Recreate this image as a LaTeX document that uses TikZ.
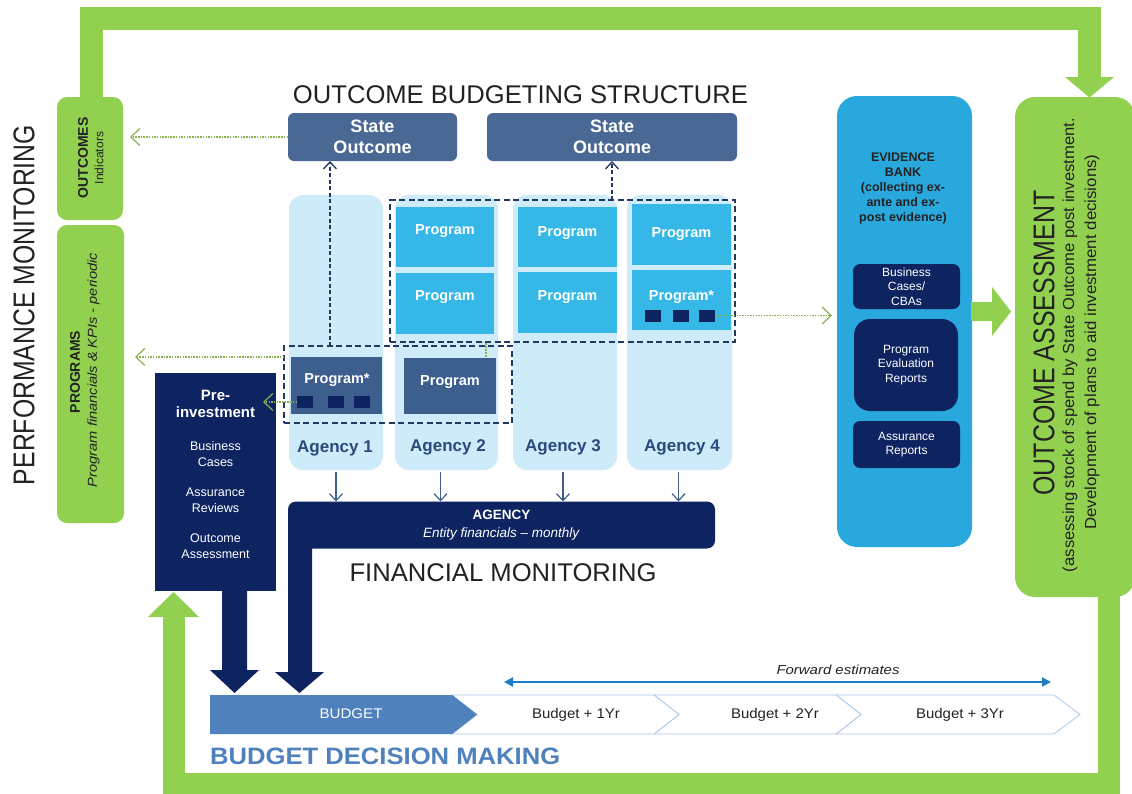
\documentclass[tikz,border=0pt]{standalone}
\usepackage{fontspec}
\setmainfont{Liberation Sans}
\usepackage{graphicx}
\usetikzlibrary{arrows.meta,calc}
\definecolor{ogreen}{HTML}{92D050}
\definecolor{navy}{HTML}{0E2461}
\definecolor{stateblue}{HTML}{4A6894}
\definecolor{progdark}{HTML}{3D5F8E}
\definecolor{agencylight}{HTML}{CDEBF8}
\definecolor{progbright}{HTML}{35B8E8}
\definecolor{evbank}{HTML}{29A8DE}
\definecolor{agtextc}{HTML}{2B4A7C}
\definecolor{budgetblue}{HTML}{4F81BD}
\definecolor{chevline}{HTML}{A9C8E8}
\definecolor{dashnavy}{HTML}{203864}
\definecolor{dotgreen}{HTML}{8CB04F}
\definecolor{fwdblue}{HTML}{1C7CC7}
\definecolor{txtdark}{HTML}{222222}
\newcommand\fitto[2]{\resizebox{#1}{\height}{#2}}
\begin{document}
\begin{tikzpicture}[x=1pt,y=-1pt,
  box/.style={inner sep=0pt, outer sep=0pt, draw=none},
  gbox/.style={box, fill=ogreen, rounded corners=10pt},
  rot/.style={rotate=90, inner sep=0pt, text=txtdark},
  stateb/.style={box, fill=stateblue, rounded corners=6pt, text=white, font=\bfseries\fontsize{18}{21}\selectfont, align=center},
  agcol/.style={box, fill=agencylight, rounded corners=14pt},
  progb/.style={box, fill=progbright},
  progd/.style={box, fill=progdark},
  sq/.style={box, fill=navy, minimum width=16pt, minimum height=12pt},
  ptext/.style={inner sep=0pt, text=white, font=\bfseries\fontsize{14.5}{17}\selectfont},
  agtext/.style={inner sep=0pt, text=agtextc, font=\bfseries\fontsize{17}{20}\selectfont},
  dashrect/.style={box, draw=dashnavy, line width=1.5pt, dash pattern=on 6pt off 3.5pt},
  dasharrow/.style={draw=dashnavy, line width=1.5pt, dash pattern=on 4pt off 2.5pt, -{Straight Barb[length=7pt,width=13pt,line width=1.3pt]}},
  garrow/.style={draw=dotgreen, line width=1.2pt, dash pattern=on 1.5pt off 1.2pt, -{Straight Barb[length=9pt,width=17pt,line width=1.2pt]}},
  gdot/.style={draw=dotgreen, line width=1.6pt, dash pattern=on 1.5pt off 1.5pt},
  smallarrow/.style={draw=progdark, line width=1.2pt, -{Straight Barb[length=7pt,width=13pt,line width=1.2pt]}},
  wtext/.style={inner sep=0pt, text=white, align=center},
  chev/.style={fill=white, draw=chevline, line width=0.8pt},
  navyb/.style={box, fill=navy},
  ebox/.style={box, fill=navy, rounded corners=7pt, text=white, align=center, font=\fontsize{12}{14.5}\selectfont},
]
\useasboundingbox (0,0) rectangle (1132,793);
\fill[white] (0,0) rectangle (1132,793);

% ---------- green loops ----------
\draw[ogreen, line width=23pt] (91.5,100) -- (91.5,18.5) -- (1089.5,18.5) -- (1089.5,78);
\fill[ogreen] (1065,77) -- (1114,77) -- (1089.5,97.5) -- cycle;
\draw[ogreen, line width=22pt] (1109,590) -- (1109,784) -- (173.5,784) -- (173.5,616);
\fill[ogreen] (148,617) -- (199,617) -- (173.5,592) -- cycle;

% ---------- performance monitoring ----------
\node[gbox, minimum width=66pt, minimum height=123pt] (outc) at (90,158.5) {};
\node[rot, font=\bfseries\fontsize{14}{16}\selectfont] (outct) at (83,158) {OUTCOMES};
\node[rot, font=\fontsize{12}{14}\selectfont] (indt) at (99,158) {Indicators};
\node[gbox, minimum width=67pt, minimum height=298pt] (progs) at (90.5,374) {};
\node[rot, font=\bfseries\fontsize{14}{16}\selectfont] (progst) at (75,372) {PROGRAMS};
\node[rot, font=\itshape\fontsize{13}{15}\selectfont] (progsi) at (93.5,370) {\fitto{234pt}{Program financials \& KPIs - periodic}};
\node[rot, font=\fontsize{30}{36}\selectfont] (perfm) at (24,305) {\fitto{360pt}{PERFORMANCE MONITORING}};

% ---------- outcome budgeting structure ----------
\node[inner sep=0pt, text=txtdark, font=\fontsize{25.6}{30}\selectfont] (obs) at (520.5,95) {\fitto{455pt}{OUTCOME BUDGETING STRUCTURE}};
\node[stateb, minimum width=169pt, minimum height=48pt] (so1) at (372.5,137) {State\\Outcome};
\node[stateb, minimum width=250pt, minimum height=48pt] (so2) at (612,137) {State\\Outcome};

% agency columns
\node[agcol, minimum width=94pt, minimum height=275pt] (a1) at (336,332.5) {};
\node[agcol, minimum width=103pt, minimum height=275pt] (a2) at (446.5,332.5) {};
\node[agcol, minimum width=104pt, minimum height=275pt] (a3) at (565,332.5) {};
\node[agcol, minimum width=105pt, minimum height=275pt] (a4) at (679.5,332.5) {};
\node[agtext] (a1t) at (335,448) {Agency 1};
\node[agtext] (a2t) at (448,447) {Agency 2};
\node[agtext] (a3t) at (563,447) {Agency 3};
\node[agtext] (a4t) at (682,447) {Agency 4};

% bright programs
\node[progb, minimum width=98pt, minimum height=60pt] (p2a) at (445,237) {};
\node[progb, minimum width=98pt, minimum height=61pt] (p2b) at (445,303.5) {};
\node[progb, minimum width=99pt, minimum height=60pt] (p3a) at (567.5,237) {};
\node[progb, minimum width=99pt, minimum height=61pt] (p3b) at (567.5,302.5) {};
\node[progb, minimum width=99pt, minimum height=61pt] (p4a) at (681.5,234.5) {};
\node[progb, minimum width=99pt, minimum height=60pt] (p4b) at (681.5,300) {};
\node[ptext] (p2at) at (445,231) {Program};
\node[ptext] (p2bt) at (445,297) {Program};
\node[ptext] (p3at) at (567.5,233) {Program};
\node[ptext] (p3bt) at (567.5,297) {Program};
\node[ptext] (p4at) at (681.5,234) {Program};
\node[ptext] (p4bt) at (681.5,297) {Program*};
\node[sq] (s4) at (652.5,315.5) {};
\node[sq] (s5) at (680.5,315.5) {};
\node[sq] (s6) at (707,315.5) {};

% dark programs
\node[progd, minimum width=91pt, minimum height=57pt] (d1) at (336.5,385.5) {};
\node[progd, minimum width=92pt, minimum height=56pt] (d2) at (450,386) {};
\node[ptext] (d1t) at (337,380) {Program*};
\node[ptext] (d2t) at (450,382) {Program};
\node[sq] (s1) at (305,402) {};
\node[sq] (s2) at (335.5,402) {};
\node[sq] (s3) at (362,402) {};

% dashed groups
\node[dashrect, minimum width=345pt, minimum height=142pt] (dtop) at (562.5,271) {};
\node[dashrect, minimum width=228pt, minimum height=77pt] (dlow) at (398,384.5) {};
\coordinate (c1) at (330,346);
\draw[dasharrow] (c1) -- (c1 |- so1.south);
\draw[dasharrow] (dtop.north -| so2.south) -- (so2.south);
\coordinate (c2a) at (486,343);
\coordinate (c2b) at (486,357);
\draw[gdot] (c2a) -- (c2b);

% ---------- pre-investment ----------
\node[navyb, minimum width=121pt, minimum height=218pt] (preinv) at (215.5,482) {};
\node[wtext, font=\bfseries\fontsize{15}{17}\selectfont] (pit) at (215.5,404) {Pre-\\investment};
\node[wtext, font=\fontsize{12.5}{16}\selectfont] (pib) at (215.5,454) {Business\\Cases};
\node[wtext, font=\fontsize{12.5}{16}\selectfont] (pia) at (215.5,500) {Assurance\\Reviews};
\node[wtext, font=\fontsize{12.5}{16}\selectfont] (pio) at (215.5,546) {Outcome\\Assessment};
\fill[navy] (222,590) -- (222,670) -- (210,670) -- (234.5,693) -- (259,670) -- (247,670) -- (247,590) -- cycle;

% ---------- green dotted arrows ----------
\draw[garrow, shorten >=7pt] (so1.west) -- (so1.west -| outc.east);
\coordinate (g2s) at (284,357);
\draw[garrow, shorten >=11pt] (g2s) -- (g2s -| progs.east);
\draw[garrow, shorten >=-13pt] (s1.west) -- (s1.west -| preinv.east);

% ---------- agency financial ----------
\node[box, fill=navy, rounded corners=8pt, minimum width=427pt, minimum height=47pt, text=white, align=center, font=\fontsize{13.5}{18}\selectfont] (agbar) at (501.5,525) {\textbf{AGENCY}\\\textit{Entity financials – monthly}};
\fill[navy] (288,515) -- (288,672) -- (275,672) -- (299.5,693) -- (324,672) -- (312,672) -- (312,515) -- cycle;
\draw[smallarrow] ($(a1.south)+(0,2)$) -- (a1.south |- agbar.north);
\draw[smallarrow] ($(a2.south)+(-6,2)$) -- ($(a2.south |- agbar.north)+(-6,0)$);
\draw[smallarrow] ($(a3.south)+(-2,2)$) -- ($(a3.south |- agbar.north)+(-2,0)$);
\draw[smallarrow] ($(a4.south)+(-1,2)$) -- ($(a4.south |- agbar.north)+(-1,0)$);
\node[inner sep=0pt, text=txtdark, font=\fontsize{25.6}{30}\selectfont] (finm) at (503,573) {\fitto{307pt}{FINANCIAL MONITORING}};

% ---------- evidence bank ----------
\node[box, fill=evbank, rounded corners=20pt, minimum width=135pt, minimum height=451pt] (eb) at (904.5,321.5) {};
\node[inner sep=0pt, align=center, text=txtdark, font=\bfseries\fontsize{12.5}{15}\selectfont] (ebt) at (903,188) {EVIDENCE\\BANK\\(collecting ex-\\ante and ex-\\post evidence)};
\node[ebox, minimum width=107pt, minimum height=45pt] (eb1) at (906.5,286.5) {Business\\Cases/\\CBAs};
\node[ebox, rounded corners=16pt, minimum width=104pt, minimum height=92pt] (eb2) at (906,365) {Program\\Evaluation\\Reports};
\node[ebox, minimum width=107pt, minimum height=47pt] (eb3) at (906.5,444.5) {Assurance\\Reports};
\draw[garrow, shorten >=5pt] (s6.east) -- (s6.east -| eb.west);
\fill[ogreen] (971,302) -- (992,302) -- (992,287) -- (1011,311.5) -- (992,336) -- (992,321) -- (971,321) -- cycle;

% ---------- outcome assessment ----------
\node[gbox, rounded corners=20pt, minimum width=120pt, minimum height=500pt] (oa) at (1075,347) {};
\node[rot, font=\fontsize{30}{36}\selectfont] (oat) at (1044,343) {\fitto{305pt}{OUTCOME ASSESSMENT}};
\node[rot, font=\fontsize{16}{19}\selectfont] (oal1) at (1070,345) {\fitto{454pt}{(assessing stock of spend by State Outcome post investment.}};
\node[rot, font=\fontsize{16}{19}\selectfont] (oal2) at (1092,342) {\fitto{375pt}{Development of plans to aid investment decisions)}};

% ---------- budget ----------
\draw[chev] (836,695) -- (1054,695) -- (1080,714.5) -- (1054,734) -- (836,734) -- (861,714.5) -- cycle;
\draw[chev] (654,695) -- (836,695) -- (861,714.5) -- (836,734) -- (654,734) -- (679,714.5) -- cycle;
\draw[chev] (452,695) -- (654,695) -- (679,714.5) -- (654,734) -- (452,734) -- (477,714.5) -- cycle;
\fill[budgetblue] (210,695) -- (452,695) -- (477,714.5) -- (452,734) -- (210,734) -- cycle;
\node[inner sep=0pt, text=white, font=\fontsize{14}{16}\selectfont] (budt) at (351,714) {\fitto{63pt}{BUDGET}};
\node[inner sep=0pt, text=txtdark, font=\fontsize{14}{16}\selectfont] (b1t) at (576,715) {\fitto{88pt}{Budget + 1Yr}};
\node[inner sep=0pt, text=txtdark, font=\fontsize{14}{16}\selectfont] (b2t) at (775,715) {\fitto{88pt}{Budget + 2Yr}};
\node[inner sep=0pt, text=txtdark, font=\fontsize{14}{16}\selectfont] (b3t) at (960,715) {\fitto{88pt}{Budget + 3Yr}};
\coordinate (fwa) at (504,682);
\coordinate (fwb) at (1051,682);
\draw[fwdblue, line width=2pt, {Triangle[length=9pt,width=9pt]}-{Triangle[length=9pt,width=9pt]}] (fwa) -- (fwb);
\node[inner sep=0pt, text=txtdark, font=\itshape\fontsize{13}{15}\selectfont] (fwt) at (838,670) {\fitto{123pt}{Forward estimates}};
\node[inner sep=0pt, anchor=west, text=budgetblue, font=\bfseries\fontsize{23.7}{28}\selectfont] (bdm) at (210,756) {\fitto{350pt}{BUDGET DECISION MAKING}};
\end{tikzpicture}
\end{document}
